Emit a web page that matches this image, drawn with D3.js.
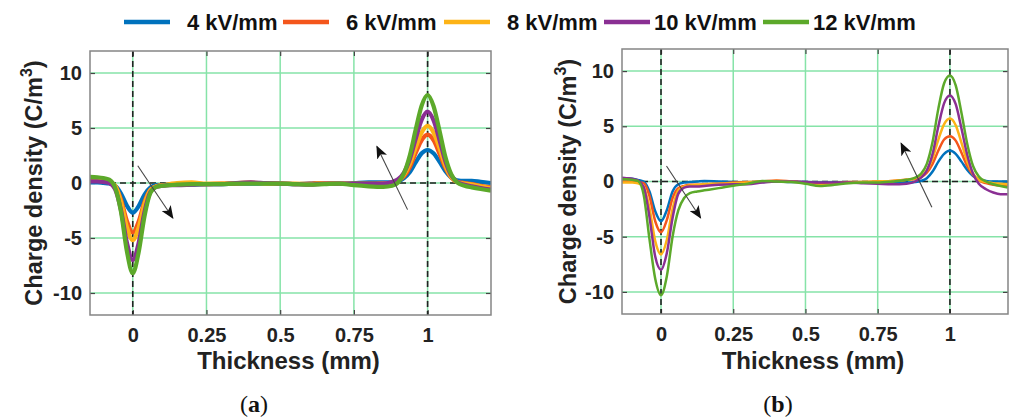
<!DOCTYPE html>
<html>
<head>
<meta charset="utf-8">
<script src="https://cdn.jsdelivr.net/npm/d3@7"></script>
<style>
  body { margin: 0; background: #fff; }
  svg { display: block; font-family: "Liberation Sans", Arial, sans-serif; }
</style>
</head>
<body>
<svg id="chart" width="1009" height="419"></svg>
<script>
// series labels and colours
const seriesNames = ['4 kV/mm', '6 kV/mm', '8 kV/mm', '10 kV/mm', '12 kV/mm'];
const seriesColors = ['#0072bd', '#f4561c', '#fdb316', '#8a2f93', '#5ca92a'];

const xTicks = [0, 0.25, 0.5, 0.75, 1];
const xTickLabels = ['0', '0.25', '0.5', '0.75', '1'];
const yTicks = [-10, -5, 0, 5, 10];
const yTickLabels = ['-10', '-5', '0', '5', '10'];

// panel (a) thickness samples and charge density per field
const xsA = [-0.145, -0.12, -0.1, -0.08, -0.06, -0.04, -0.02, 0, 0.02, 0.04, 0.06, 0.08, 0.1, 0.125,
  0.15, 0.2, 0.25, 0.3, 0.35, 0.4, 0.45, 0.5, 0.55, 0.6, 0.65, 0.7, 0.75, 0.8, 0.85,
  0.88, 0.9, 0.92, 0.94, 0.96, 0.98, 1.0, 1.02, 1.04, 1.06, 1.08, 1.1, 1.125, 1.15, 1.18, 1.215];
const blueA = [0.05, 0.05, 0.0, -0.05, -0.25, -0.95, -2.05, -2.7, -2.1, -1.05, -0.4, -0.2, -0.2, -0.15,
  -0.15, -0.15, -0.1, -0.1, -0.05, -0.05, -0.05, -0.05, -0.1, -0.05, 0.0, -0.05, 0.0, 0.05, 0.05,
  0.05, 0.15, 0.45, 1.0, 1.9, 2.7, 3.0, 2.7, 1.95, 1.1, 0.5, 0.25, 0.2, 0.2, 0.1, 0.0];
const orangeA = [0.3, 0.28, 0.22, 0.1, -0.25, -1.5, -3.45, -4.5, -3.5, -1.7, -0.6, -0.3, -0.2, -0.15,
  -0.1, -0.05, -0.1, -0.05, -0.05, 0.0, 0.0, -0.05, -0.1, -0.05, 0.0, -0.05, -0.05, -0.05, -0.05,
  0.0, 0.2, 0.6, 1.45, 2.75, 3.9, 4.4, 3.9, 2.7, 1.4, 0.5, 0.1, 0.0, -0.1, -0.25, -0.4];
const yellowA = [0.4, 0.38, 0.3, 0.15, -0.25, -1.7, -4.0, -5.2, -4.05, -1.9, -0.65, -0.3, -0.2, -0.1,
  0.0, 0.05, -0.05, -0.05, 0.0, 0.05, -0.05, -0.05, -0.05, -0.1, 0.0, -0.05, -0.1, -0.1, -0.05,
  0.05, 0.25, 0.75, 1.75, 3.25, 4.6, 5.2, 4.6, 3.2, 1.6, 0.55, 0.1, -0.05, -0.15, -0.3, -0.5];
const purpleA = [0.15, 0.15, 0.1, 0.0, -0.55, -2.45, -5.4, -7.0, -5.45, -2.6, -0.8, -0.35, -0.25, -0.2,
  -0.2, -0.15, -0.1, -0.1, 0.0, 0.05, 0.0, -0.05, -0.1, -0.15, -0.05, -0.05, -0.1, -0.1, -0.05,
  0.1, 0.35, 0.95, 2.2, 4.05, 5.75, 6.5, 5.7, 3.95, 2.0, 0.7, 0.1, -0.15, -0.3, -0.45, -0.6];
const greenA = [0.55, 0.52, 0.45, 0.3, -0.4, -2.6, -6.2, -8.2, -6.3, -3.0, -0.9, -0.35, -0.25, -0.2,
  -0.15, -0.1, -0.1, -0.1, -0.05, -0.05, -0.05, -0.05, -0.1, -0.15, -0.1, -0.05, -0.2, -0.3, -0.35,
  -0.25, 0.05, 0.9, 2.55, 4.9, 7.05, 8.0, 7.0, 4.8, 2.4, 0.8, 0.05, -0.25, -0.4, -0.55, -0.7];

// panel (b)
const xsB = [-0.135, -0.12, -0.1, -0.08, -0.06, -0.04, -0.02, 0, 0.02, 0.04, 0.06, 0.08, 0.1, 0.125,
  0.15, 0.2, 0.25, 0.3, 0.35, 0.4, 0.45, 0.5, 0.55, 0.6, 0.65, 0.7, 0.75, 0.8, 0.85,
  0.88, 0.9, 0.92, 0.94, 0.96, 0.98, 1.0, 1.02, 1.04, 1.06, 1.08, 1.1, 1.125, 1.15, 1.175, 1.2];
const blueB = [0.3, 0.3, 0.25, 0.15, 0.0, -0.9, -2.7, -3.6, -2.6, -0.9, -0.25, -0.1, -0.05, 0.0,
  0.05, 0.0, -0.05, -0.1, -0.05, 0.0, -0.05, -0.05, -0.1, -0.1, -0.1, -0.1, -0.1, -0.1, -0.1,
  -0.05, 0.05, 0.3, 0.9, 1.8, 2.5, 2.8, 2.5, 1.8, 1.05, 0.5, 0.2, 0.05, 0.0, 0.0, 0.0];
const orangeB = [0.0, 0.0, 0.0, -0.05, -0.15, -1.3, -3.6, -4.6, -3.5, -1.5, -0.6, -0.4, -0.3, -0.3,
  -0.25, -0.2, -0.1, -0.05, 0.0, 0.1, 0.0, -0.1, -0.25, -0.15, -0.05, -0.05, 0.0, 0.05, 0.15,
  0.25, 0.4, 0.8, 1.6, 2.8, 3.8, 4.1, 3.7, 2.6, 1.4, 0.6, 0.1, -0.15, -0.3, -0.35, -0.35];
const yellowB = [-0.1, -0.1, -0.1, -0.15, -0.5, -2.4, -5.4, -6.6, -5.3, -2.5, -0.8, -0.45, -0.35, -0.3,
  -0.25, -0.2, -0.15, -0.1, 0.0, 0.05, 0.0, -0.15, -0.35, -0.2, -0.1, -0.05, 0.0, 0.05, 0.15,
  0.3, 0.5, 1.0, 2.1, 3.8, 5.2, 5.7, 5.1, 3.5, 1.8, 0.7, 0.15, -0.05, -0.15, -0.2, -0.25];
const purpleB = [0.35, 0.3, 0.25, 0.1, -0.5, -3.2, -6.8, -8.0, -6.5, -3.3, -1.1, -0.55, -0.45, -0.45,
  -0.4, -0.3, -0.25, -0.25, -0.1, 0.0, 0.0, -0.05, -0.1, -0.1, -0.1, -0.15, -0.2, -0.25, -0.2,
  0.0, 0.35, 1.0, 2.5, 5.0, 7.1, 7.8, 7.0, 4.8, 2.4, 0.7, -0.2, -0.7, -1.0, -1.15, -1.15];
const greenB = [0.2, 0.2, 0.15, 0.05, -1.2, -5.2, -8.8, -10.3, -8.6, -5.0, -2.6, -1.5, -1.05, -0.9,
  -0.8, -0.6, -0.38, -0.2, 0.05, 0.0, -0.05, -0.2, -0.4, -0.3, -0.15, -0.1, -0.1, 0.0, 0.15,
  0.35, 0.7, 1.6, 3.6, 6.6, 8.9, 9.6, 8.7, 6.2, 3.4, 1.4, 0.45, 0.0, -0.25, -0.4, -0.55];

// arrows: [x0, y0, x1, y1] in data units
const arrowsA = [[0.017, 1.57, 0.136, -3.18], [0.932, -2.42, 0.828, 3.32]];
const arrowsB = [[0.019, 1.41, 0.137, -3.3], [0.9375, -2.34, 0.831, 3.46]];

const svg = d3.select('#chart');

const defs = svg.append('defs');
defs.append('marker')
  .attr('id', 'head')
  .attr('viewBox', '0 0 12 10')
  .attr('refX', 11).attr('refY', 5)
  .attr('markerWidth', 13).attr('markerHeight', 11)
  .attr('markerUnits', 'userSpaceOnUse')
  .attr('orient', 'auto')
  .append('path')
  .attr('d', 'M0,0 L12,5 L0,10 L3,5 Z')
  .attr('fill', '#111');

const drawPanel = (p) => {
  const x = d3.scaleLinear().domain(p.xDomain).range([p.left, p.right]);
  const y = d3.scaleLinear().domain([-12, 12]).range([p.bottom, p.top]);
  const g = svg.append('g');

  const clipId = 'clip-' + p.name;
  defs.append('clipPath').attr('id', clipId)
    .append('rect')
    .attr('x', p.left).attr('y', p.top)
    .attr('width', p.right - p.left).attr('height', p.bottom - p.top);

  // grid
  const grid = g.append('g').attr('stroke', '#86e3a8').attr('stroke-width', 1.5);
  grid.selectAll('.gx').data(xTicks).enter().append('line')
    .attr('x1', d => x(d)).attr('x2', d => x(d))
    .attr('y1', p.top).attr('y2', p.bottom);
  grid.selectAll('.gy').data(yTicks).enter().append('line')
    .attr('x1', p.left).attr('x2', p.right)
    .attr('y1', d => y(d)).attr('y2', d => y(d));

  // axes with inward ticks
  const ax = g.append('g').attr('transform', 'translate(0,' + p.bottom + ')')
    .call(d3.axisBottom(x).tickValues(xTicks).tickFormat((d, i) => xTickLabels[i])
      .tickSizeInner(-5).tickSizeOuter(0).tickPadding(13));
  const ay = g.append('g').attr('transform', 'translate(' + p.left + ',0)')
    .call(d3.axisLeft(y).tickValues(yTicks).tickFormat((d, i) => yTickLabels[i])
      .tickSizeInner(-5).tickSizeOuter(0).tickPadding(8));
  const axT = g.append('g').attr('transform', 'translate(0,' + p.top + ')')
    .call(d3.axisTop(x).tickValues(xTicks).tickFormat('').tickSizeInner(-5).tickSizeOuter(0));
  const ayR = g.append('g').attr('transform', 'translate(' + p.right + ',0)')
    .call(d3.axisRight(y).tickValues(yTicks).tickFormat('').tickSizeInner(-5).tickSizeOuter(0));
  [ax, ay, axT, ayR].forEach(a => {
    a.select('.domain').remove();
    a.selectAll('.tick line').attr('stroke', '#444').attr('stroke-width', 1.2);
  });
  [ax, ay].forEach(a => {
    a.attr('font-family', '"Liberation Sans", Arial, sans-serif').attr('font-size', 20);
    a.selectAll('.tick text')
      .style('font-weight', 'bold')
      .style('font-size', '20px')
      .attr('fill', '#222');
  });

  // dashed reference lines
  const ref = g.append('g').attr('stroke', '#222').attr('stroke-width', 1.6)
    .attr('stroke-dasharray', '6,4');
  [0, 1].forEach(v => {
    ref.append('line').attr('x1', x(v)).attr('x2', x(v)).attr('y1', p.top).attr('y2', p.bottom);
  });
  ref.append('line').attr('x1', p.left).attr('x2', p.right).attr('y1', y(0)).attr('y2', y(0));

  // curves
  const line = d3.line()
    .x((d, i) => x(p.xs[i]))
    .y(d => y(d))
    .curve(d3.curveMonotoneX);
  const curves = g.append('g').attr('clip-path', 'url(#' + clipId + ')');
  p.series.forEach((s, i) => {
    curves.append('path')
      .attr('d', line(s))
      .attr('fill', 'none')
      .attr('stroke', seriesColors[i])
      .attr('stroke-width', p.lineWidth)
      .attr('stroke-linejoin', 'round');
  });

  // frame
  g.append('rect')
    .attr('x', p.left).attr('y', p.top)
    .attr('width', p.right - p.left).attr('height', p.bottom - p.top)
    .attr('fill', 'none').attr('stroke', '#858585').attr('stroke-width', 1.5);

  // arrows
  p.arrows.forEach(a => {
    g.append('line')
      .attr('x1', x(a[0])).attr('y1', y(a[1]))
      .attr('x2', x(a[2])).attr('y2', y(a[3]))
      .attr('stroke', '#444').attr('stroke-width', 1.1)
      .attr('marker-end', 'url(#head)');
  });

  // axis titles
  g.append('text')
    .attr('x', (p.left + p.right) / 2 - 2).attr('y', 369)
    .attr('text-anchor', 'middle')
    .attr('font-size', 24).attr('font-weight', 'bold').attr('fill', '#222')
    .text('Thickness (mm)');

  const yt = g.append('text')
    .attr('transform', 'translate(' + p.yTitleX + ',' + ((p.top + p.bottom) / 2) + ') rotate(-90)')
    .attr('text-anchor', 'middle')
    .attr('font-size', 23.5).attr('font-weight', 'bold').attr('fill', '#222');
  yt.append('tspan').text('Charge density (C/m');
  yt.append('tspan').attr('dy', -10).attr('font-size', 16).text('3');
  yt.append('tspan').attr('dy', 10).text(')');

  // panel label
  const lab = svg.append('text')
    .attr('x', p.labelX).attr('y', 412)
    .attr('text-anchor', 'middle')
    .attr('font-family', '"Liberation Serif", serif')
    .attr('font-size', 24).attr('fill', '#111');
  lab.append('tspan').text('(');
  lab.append('tspan').attr('font-weight', 'bold').text(p.name);
  lab.append('tspan').text(')');
};

drawPanel({
  name: 'a', xDomain: [-0.145, 1.215], left: 90, right: 491, top: 51, bottom: 315,
  xs: xsA, series: [blueA, orangeA, yellowA, purpleA, greenA], lineWidth: 4.2,
  arrows: arrowsA, yTitleX: 42, labelX: 254
});
drawPanel({
  name: 'b', xDomain: [-0.135, 1.201], left: 622, right: 1008, top: 49, bottom: 314,
  xs: xsB, series: [blueB, orangeB, yellowB, purpleB, greenB], lineWidth: 2.5,
  arrows: arrowsB, yTitleX: 576, labelX: 778
});

// legend
const legendX = [124, 283, 444, 604, 763];
const legend = svg.append('g');
seriesNames.forEach((name, i) => {
  const item = legend.append('g').attr('transform', 'translate(' + legendX[i] + ',22)');
  item.append('line').attr('x1', 0).attr('x2', 46).attr('y1', 0).attr('y2', 0)
    .attr('stroke', seriesColors[i]).attr('stroke-width', 4.5);
  item.append('text')
    .attr('x', i < 3 ? 63 : 50).attr('y', 8)
    .attr('font-size', 22).attr('font-weight', 'bold').attr('fill', '#111')
    .text(name);
});
</script>
</body>
</html>
